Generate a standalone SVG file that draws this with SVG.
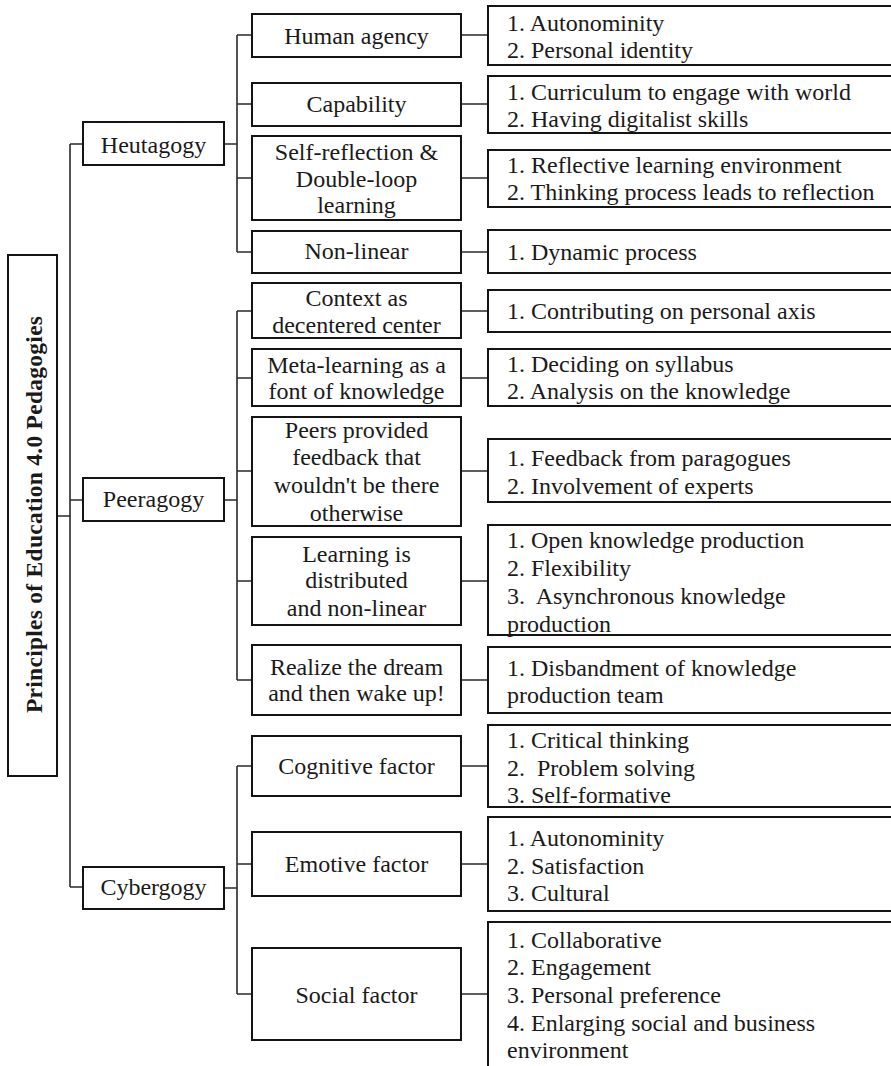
<svg xmlns="http://www.w3.org/2000/svg" width="891" height="1066" viewBox="0 0 891 1066">
<style>
.box{fill:#fff;stroke:#141414;stroke-width:2}
.ln{fill:none;stroke:#2a2a2a;stroke-width:1.6}
text{font-family:'Liberation Serif','Times New Roman',Times,'DejaVu Serif',serif;font-size:24px;font-weight:normal;fill:#1a1a1a}
.c{text-anchor:middle}
.root{font-weight:bold;font-size:23.5px;text-anchor:middle}
</style>
<rect width="891" height="1066" fill="#fff"/>
<g id="connectors">
<path class="ln" d="M57,516H70M70,144V887M70,144H83M70,500H83M70,887H83"/>
<path class="ln" d="M224,144H237M237,35V252M237,35H252M237,104H252M237,178H252M237,252H252"/>
<path class="ln" d="M224,500H237M237,311V680M237,311H252M237,378H252M237,471H252M237,581H252M237,680H252"/>
<path class="ln" d="M224,888H237M237,766V994M237,766H252M237,864H252M237,994H252"/>
<path class="ln" d="M461,35H488M461,104H488M461,178H488M461,252H488M461,311H488M461,378H488M461,471H488M461,581H488M461,680H488M461,766H488M461,864H488M461,994H488"/>
</g>
<g id="root"><rect class="box" x="8" y="255" width="49" height="521"/>
<text class="root" transform="translate(42,514.5) rotate(-90)" textLength="397" lengthAdjust="spacing">Principles of Education 4.0 Pedagogies</text></g>
<g id="heutagogy"><rect class="box" x="83" y="122" width="141" height="43"/><text class="c" x="153.5" y="153">Heutagogy</text></g>
<g id="peeragogy"><rect class="box" x="83" y="478" width="141" height="43"/><text class="c" x="153.5" y="507">Peeragogy</text></g>
<g id="cybergogy"><rect class="box" x="83" y="867" width="141" height="42"/><text class="c" x="153.5" y="895">Cybergogy</text></g>

<g id="human-agency"><rect class="box" x="252" y="14" width="209" height="43"/><text class="c" x="356.5" y="44">Human agency</text></g>
<g id="capability"><rect class="box" x="252" y="83" width="209" height="43"/><text class="c" x="356.5" y="112">Capability</text></g>
<g id="self-reflection"><rect class="box" x="252" y="136" width="209" height="84"/><text class="c" x="356.5" y="160">Self-reflection &amp;</text><text class="c" x="356.5" y="187">Double-loop</text><text class="c" x="356.5" y="213">learning</text></g>
<g id="non-linear"><rect class="box" x="252" y="231" width="209" height="42"/><text class="c" x="356.5" y="259">Non-linear</text></g>
<g id="context"><rect class="box" x="252" y="283" width="209" height="55"/><text class="c" x="356.5" y="306">Context as</text><text class="c" x="356.5" y="333">decentered center</text></g>
<g id="meta-learning"><rect class="box" x="252" y="349" width="209" height="57"/><text class="c" x="356.5" y="373">Meta-learning as a</text><text class="c" x="356.5" y="399">font of knowledge</text></g>
<g id="peers"><rect class="box" x="252" y="417" width="209" height="109"/><text class="c" x="356.5" y="438">Peers provided</text><text class="c" x="356.5" y="465">feedback that</text><text class="c" x="356.5" y="493">wouldn't be there</text><text class="c" x="356.5" y="521">otherwise</text></g>
<g id="learning-distributed"><rect class="box" x="252" y="537" width="209" height="88"/><text class="c" x="356.5" y="562">Learning is</text><text class="c" x="356.5" y="588">distributed</text><text class="c" x="356.5" y="616">and non-linear</text></g>
<g id="realize"><rect class="box" x="252" y="645" width="209" height="70"/><text class="c" x="356.5" y="675">Realize the dream</text><text class="c" x="356.5" y="701">and then wake up!</text></g>
<g id="cognitive"><rect class="box" x="252" y="736" width="209" height="60"/><text class="c" x="356.5" y="774">Cognitive factor</text></g>
<g id="emotive"><rect class="box" x="252" y="832" width="209" height="64"/><text class="c" x="356.5" y="872">Emotive factor</text></g>
<g id="social"><rect class="box" x="252" y="948" width="209" height="92"/><text class="c" x="356.5" y="1003">Social factor</text></g>

<g id="items-human-agency"><rect class="box" x="488" y="6" width="410" height="59"/><text x="507" y="31">1. Autonominity</text><text x="507" y="58">2. Personal identity</text></g>
<g id="items-capability"><rect class="box" x="488" y="76" width="410" height="57"/><text x="507" y="100">1. Curriculum to engage with world</text><text x="507" y="127">2. Having digitalist skills</text></g>
<g id="items-self-reflection"><rect class="box" x="488" y="150" width="410" height="57"/><text x="507" y="173">1. Reflective learning environment</text><text x="507" y="200">2. Thinking process leads to reflection</text></g>
<g id="items-non-linear"><rect class="box" x="488" y="230" width="410" height="43"/><text x="507" y="260">1. Dynamic process</text></g>
<g id="items-context"><rect class="box" x="488" y="290" width="410" height="42"/><text x="507" y="319">1. Contributing on personal axis</text></g>
<g id="items-meta"><rect class="box" x="488" y="349" width="410" height="57"/><text x="507" y="372">1. Deciding on syllabus</text><text x="507" y="399">2. Analysis on the knowledge</text></g>
<g id="items-peers"><rect class="box" x="488" y="439" width="410" height="63"/><text x="507" y="466">1. Feedback from paragogues</text><text x="507" y="494">2. Involvement of experts</text></g>
<g id="items-learning"><rect class="box" x="488" y="525" width="410" height="110"/><text x="507" y="548">1. Open knowledge production</text><text x="507" y="576">2. Flexibility</text><text x="507" y="604" xml:space="preserve">3.  Asynchronous knowledge</text><text x="507" y="632">production</text></g>
<g id="items-realize"><rect class="box" x="488" y="647" width="410" height="66"/><text x="507" y="676">1. Disbandment of knowledge</text><text x="507" y="703">production team</text></g>
<g id="items-cognitive"><rect class="box" x="488" y="725" width="410" height="82"/><text x="507" y="748">1. Critical thinking</text><text x="507" y="776" xml:space="preserve">2.  Problem solving</text><text x="507" y="803">3. Self-formative</text></g>
<g id="items-emotive"><rect class="box" x="488" y="817" width="410" height="94"/><text x="507" y="846">1. Autonominity</text><text x="507" y="874">2. Satisfaction</text><text x="507" y="901">3. Cultural</text></g>
<g id="items-social"><rect class="box" x="488" y="922" width="410" height="150"/><text x="507" y="948">1. Collaborative</text><text x="507" y="975">2. Engagement</text><text x="507" y="1003">3. Personal preference</text><text x="507" y="1031">4. Enlarging social and business</text><text x="507" y="1058">environment</text></g>
</svg>
